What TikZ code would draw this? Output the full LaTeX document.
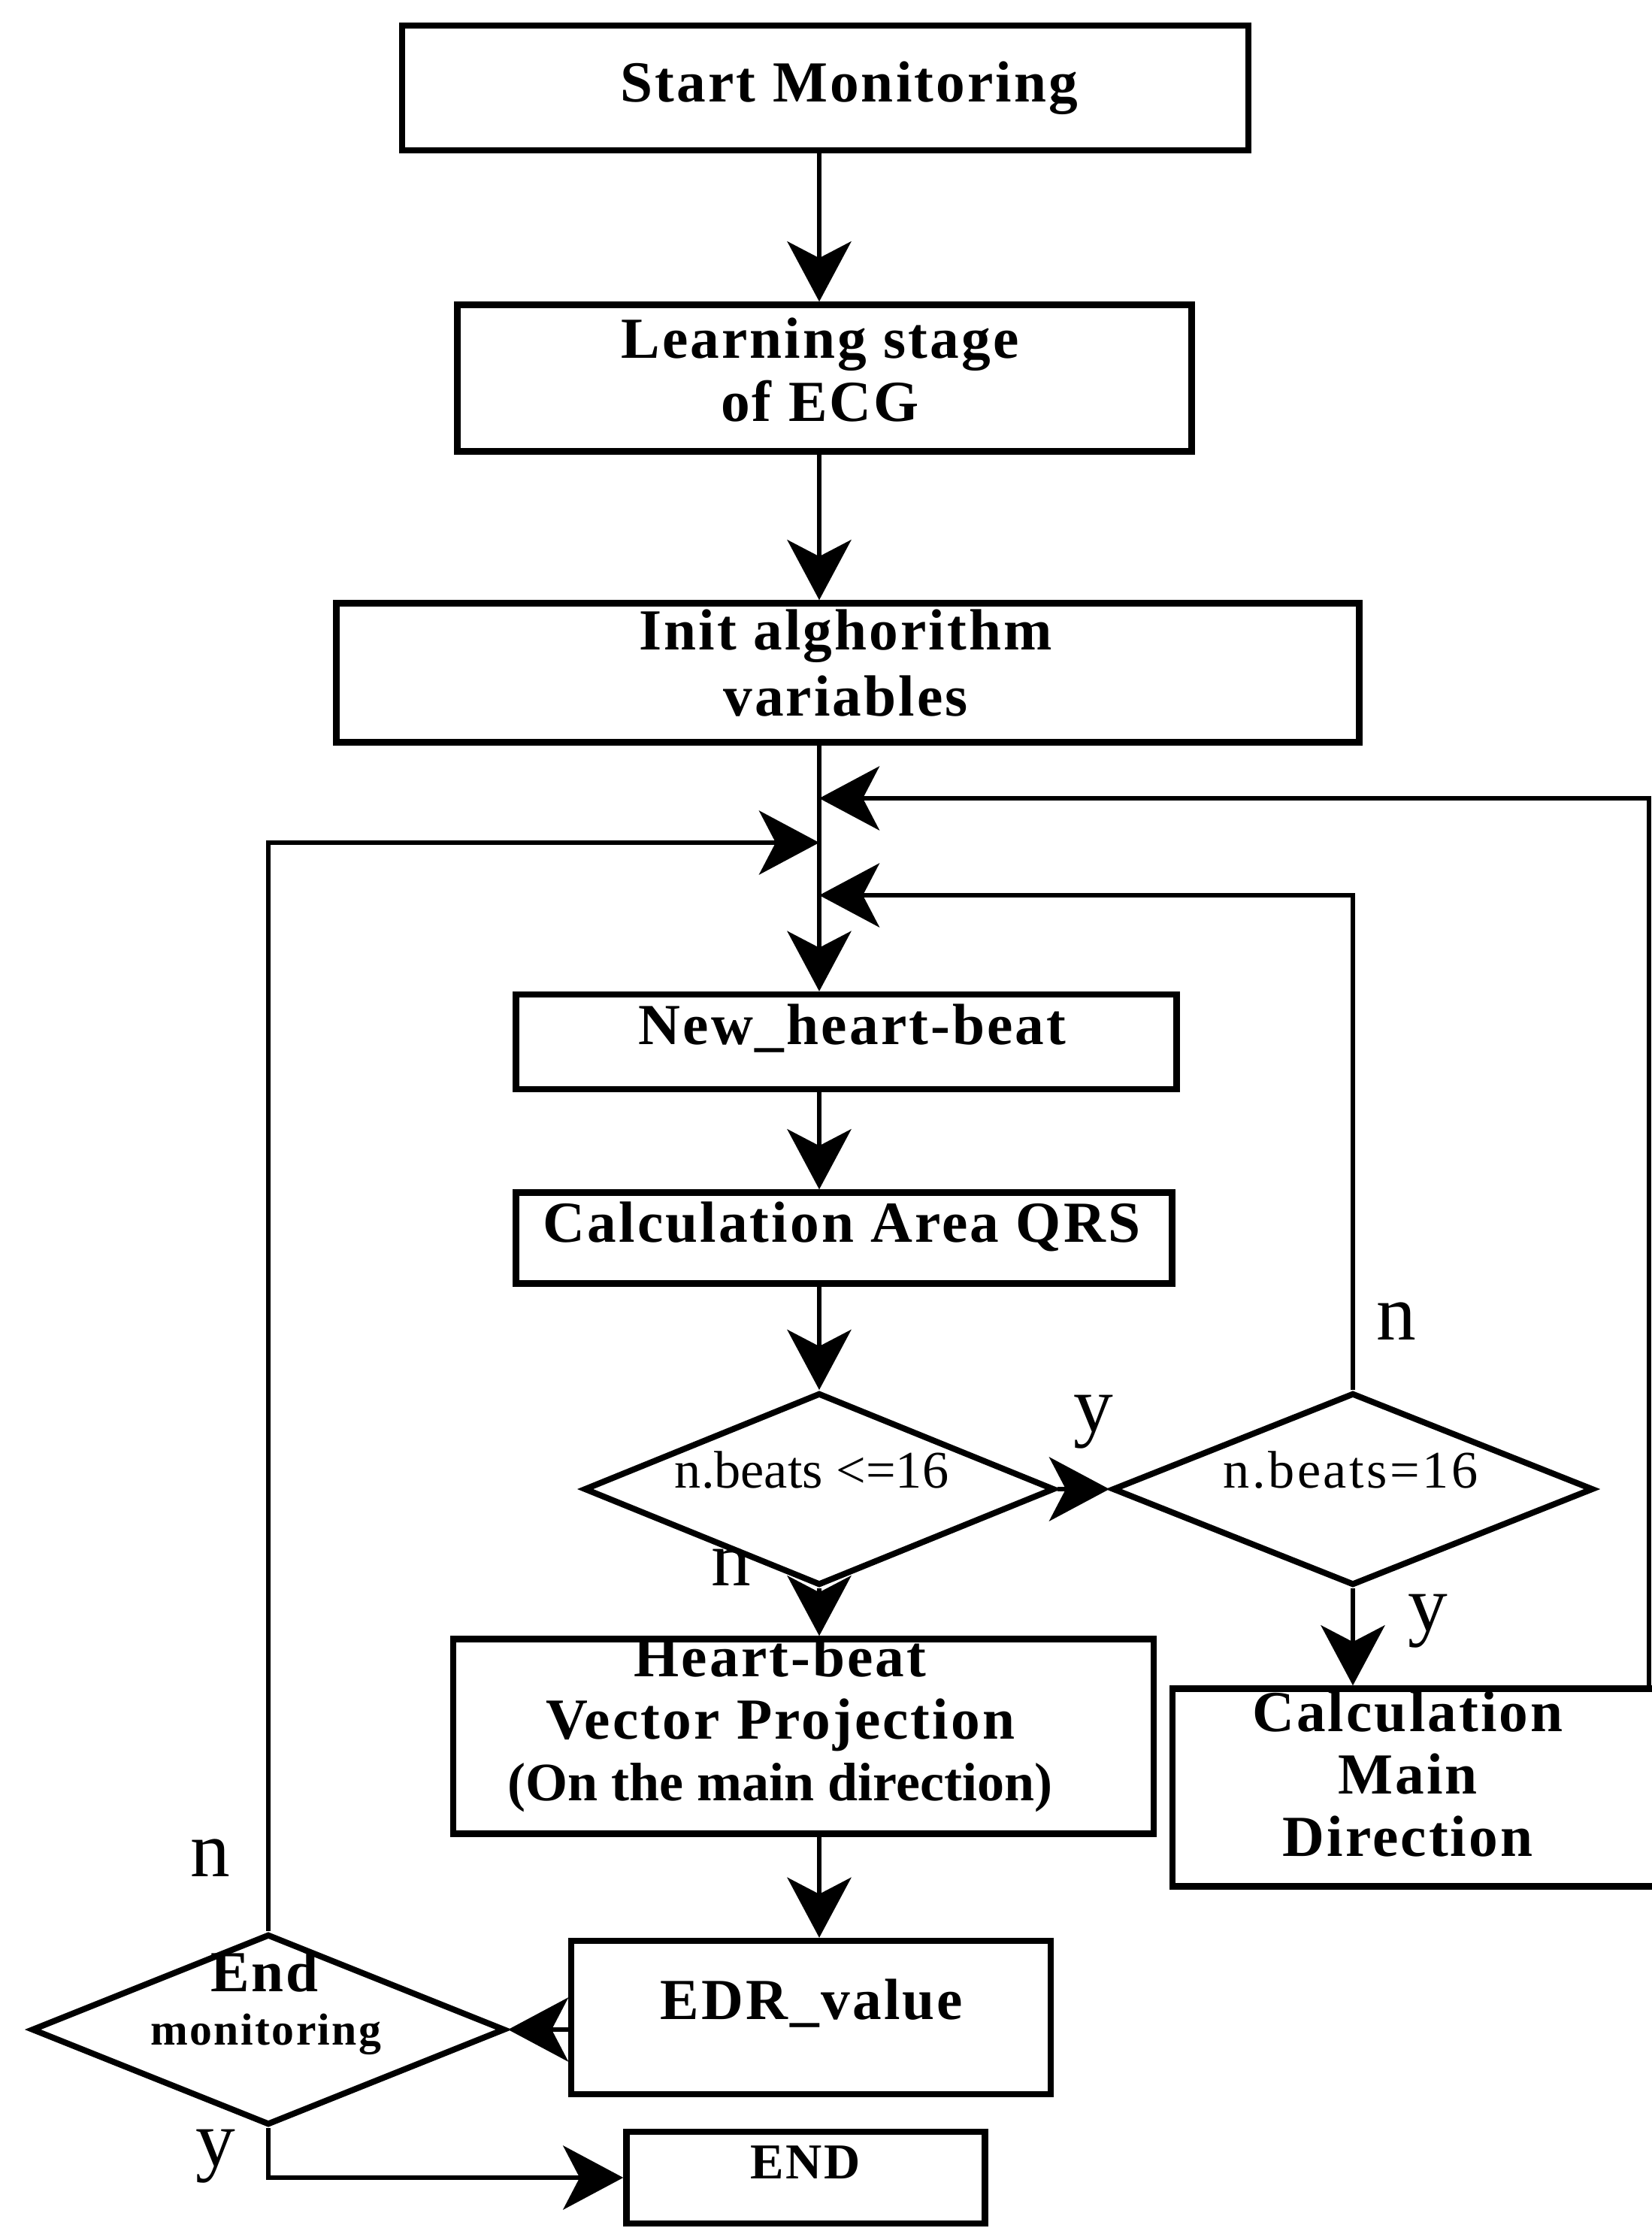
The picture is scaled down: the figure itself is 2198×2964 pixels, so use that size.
\documentclass[tikz,border=0pt]{standalone}
\usepackage{fontspec}
\setmainfont{Liberation Serif}
\newfontfamily\spaced[LetterSpace=4]{Liberation Serif}
\newfontfamily\spacedw[LetterSpace=5]{Liberation Serif}
\usetikzlibrary{shapes.geometric,arrows.meta}
\begin{document}
\begin{tikzpicture}[x=0.1mm,y=-0.1mm,
  box/.style={draw, line width=0.85mm, rectangle, inner sep=0pt},
  dia/.style={draw, line width=0.8mm, diamond, inner sep=0pt, aspect=2.4},
  lbl/.style={inner sep=0pt, font=\fontsize{22}{24}\selectfont\spaced\bfseries, align=center},
  dlbl/.style={inner sep=0pt, font=\fontsize{20}{22}\selectfont},
  yn/.style={inner sep=0pt, font=\fontsize{30}{32}\selectfont},
  conn/.style={line width=0.65mm},
  arr/.style={conn, -{Stealth[length=8mm,width=8.5mm,inset=2.2mm]}},
]
\useasboundingbox (0,0) rectangle (2198,2964);
\clip (0,0) rectangle (2198,2964);

% column coordinates
\coordinate (col) at (1090,0);
\coordinate (rx) at (2194,0);
\coordinate (j1) at (1090,1062);
\coordinate (j2) at (1090,1121);
\coordinate (j3) at (1090,1191);

% boxes
\node[box, minimum width=112.6mm, minimum height=16.6mm] (start) at (1098,117) {};
\node[box, minimum width=97.7mm, minimum height=19.5mm] (learn) at (1097,503) {};
\node[box, minimum width=136.1mm, minimum height=18.5mm] (init) at (1128,895) {};
\node[box, minimum width=87.9mm, minimum height=12.6mm] (nhb) at (1126,1386) {};
\node[box, minimum width=87.3mm, minimum height=12.1mm] (qrs) at (1123,1647) {};
\node[dia, minimum width=62.6mm, minimum height=25.6mm] (d1) at (1090,1981) {};
\node[dia, minimum width=64mm, minimum height=25.6mm] (d2) at (1800,1981) {};
\node[box, minimum width=93.2mm, minimum height=25.9mm] (hbv) at (1069,2310) {};
\node[box, minimum width=68mm, minimum height=26.3mm] (cmd) at (1900,2378) {};
\node[box, minimum width=63.8mm, minimum height=20.4mm] (edr) at (1079,2684) {};
\node[dia, minimum width=63mm, minimum height=25.4mm] (endmon) at (357,2700) {};
\node[box, minimum width=47.7mm, minimum height=12.2mm] (endb) at (1072,2897) {};

% texts
\node[lbl] (tstart) at (1130,117) {Start Monitoring};
\node[lbl, font=\fontsize{22}{24}\selectfont\spaced\bfseries] (tlearn) at (1091,492) {Learning stage\\of ECG};
\node[lbl, font=\fontsize{22}{25}\selectfont\spaced\bfseries] (tinit) at (1125,882) {Init alghorithm\\variables};
\node[lbl] (tnhb) at (1134,1368) {New\_heart-beat};
\node[lbl] (tqrs) at (1120,1632) {Calculation Area QRS};
\node[dlbl] (td1) at (1080,1956) {n.beats <=16};
\node[dlbl, font=\fontsize{20}{22}\selectfont\spacedw] (td2) at (1797,1956) {n.beats=16};
\node[lbl, font=\fontsize{22}{23.5}\selectfont\spaced\bfseries] (thbv) at (1038,2294)
  {Heart-beat\\Vector Projection\\{\fontsize{20.5}{23.5}\selectfont\rmfamily\bfseries (On the main direction)}};
\begin{scope}
  \clip (cmd.north west) rectangle (cmd.south east);
  \node[lbl, font=\fontsize{22}{23.5}\selectfont\spaced\bfseries] (tcmd) at (1873,2360) {Calculation\\Main\\Direction};
\end{scope}
\node[lbl] (tedr) at (1080,2665) {EDR\_value};
\node[lbl, font=\fontsize{19}{21}\selectfont\spaced\bfseries] (tendb) at (1072,2877) {END};
\node[lbl] (tend1) at (352,2623) {End};
\node[lbl, font=\fontsize{17}{19}\selectfont\spaced\bfseries] (tend2) at (354,2706) {monitoring};

% yes / no labels
\node[yn] (ly1) at (1455,1892) {y};
\node[yn] (ln1) at (1858,1758) {n};
\node[yn] (ln2) at (973,2085) {n};
\node[yn] (ly2) at (1900,2157) {y};
\node[yn] (ln3) at (280,2472) {n};
\node[yn] (ly3) at (287,2869) {y};

% connectors
\draw[arr] (start.south -| col) -- (learn.north -| col);
\draw[arr] (learn.south -| col) -- (init.north -| col);
\draw[arr] (init.south -| col) -- (nhb.north -| col);
\draw[arr] (nhb.south -| col) -- (qrs.north -| col);
\draw[arr] (qrs.south -| col) -- (d1.north);
\draw[arr] (d1.south) -- (hbv.north -| d1.south);
\draw[arr] (hbv.south -| col) -- (edr.north -| col);
\draw[arr] (d1.east) -- (d2.west);
\draw[arr] (d2.south) -- (cmd.north -| d2.south);
\draw[arr] (d2.north) |- (j3);
\draw[arr] (cmd.north -| rx) |- (j1);
\draw[arr] (endmon.north) |- (j2);
\draw[arr] (edr.west |- endmon.east) -- (endmon.east);
\draw[arr] (endmon.south) |- (endb.west);
\end{tikzpicture}
\end{document}
